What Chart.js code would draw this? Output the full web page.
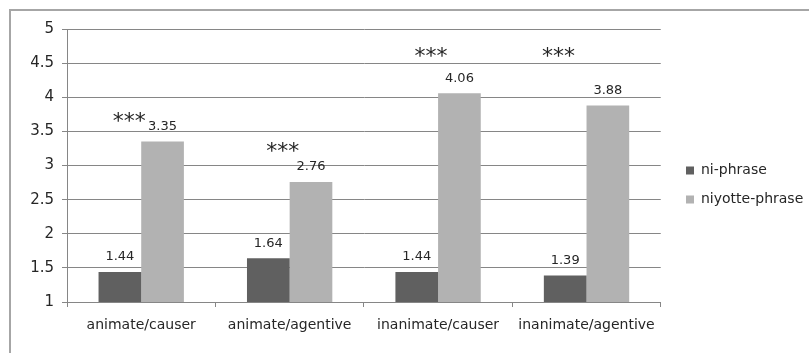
<!DOCTYPE html>
<html>
<head>
<meta charset="utf-8">
<script src="https://cdn.jsdelivr.net/npm/chart.js@4/dist/chart.umd.min.js"></script>
<style>
  html, body { margin: 0; padding: 0; background: #fff; }
  #wrap { position: relative; width: 809px; height: 353px; overflow: hidden; }
  #frame { position: absolute; left: 9px; top: 9px; width: 900px; height: 400px;
           border-top: 2px solid #a6a6a6; border-left: 2px solid #a6a6a6; }
  canvas { position: absolute; left: 0; top: 0; }
</style>
</head>
<body>
<div id="wrap">
  <div id="frame"></div>
  <canvas id="c" width="809" height="353"></canvas>
</div>
<script>
const categories = ["animate/causer", "animate/agentive", "inanimate/causer", "inanimate/agentive"];
const seriesNames = ["ni-phrase", "niyotte-phrase"];
const niPhrase = [1.44, 1.64, 1.44, 1.39];
const niyottePhrase = [3.35, 2.76, 4.06, 3.88];
const significance = ["***", "***", "***", "***"];
const yTicks = [1, 1.5, 2, 2.5, 3, 3.5, 4, 4.5, 5];

// star annotation placement (px offset from category centre, y in data units)
const starPlacement = [
  { dx: -12, y: 3.70 },
  { dx: -7,  y: 3.26 },
  { dx: -7,  y: 4.66 },
  { dx: -28, y: 4.66 }
];

const FONT = "'DejaVu Sans', sans-serif";

const valueLabels = {
  id: 'valueLabels',
  afterLayout(chart) {
    const lg = chart.legend;
    if (lg) {
      const shift = 687 - 16 - lg.left;
      lg.left += shift; lg.right += shift; lg.top -= 6; lg.bottom -= 6;
    }
  },
  afterDatasetsDraw(chart) {
    const ctx = chart.ctx;
    ctx.save();
    ctx.font = "13px " + FONT;
    ctx.fillStyle = "#262626";
    ctx.textAlign = "center";
    ctx.textBaseline = "middle";
    chart.data.datasets.forEach((ds, di) => {
      const meta = chart.getDatasetMeta(di);
      meta.data.forEach((bar, i) => {
        ctx.fillText(ds.data[i].toFixed(2), bar.x, bar.y - 15);
      });
    });
    ctx.font = "22px " + FONT;
    const xs = chart.scales.x, ys = chart.scales.y;
    significance.forEach((s, i) => {
      const p = starPlacement[i];
      ctx.fillText(s, xs.getPixelForValue(i) + p.dx, ys.getPixelForValue(p.y) + 5);
    });
    ctx.restore();
  }
};

new Chart(document.getElementById('c'), {
  type: 'bar',
  data: {
    labels: categories,
    datasets: [
      { label: seriesNames[0], data: niPhrase, backgroundColor: '#606060' },
      { label: seriesNames[1], data: niyottePhrase, backgroundColor: '#b2b2b2' }
    ]
  },
  options: {
    responsive: false,
    animation: false,
    devicePixelRatio: 1,
    layout: { padding: { left: 10, top: 29, right: 6, bottom: 0 } },
    datasets: { bar: { categoryPercentage: 0.575, barPercentage: 1.0 } },
    plugins: {
      tooltip: { enabled: false },
      legend: {
        position: 'right',
        labels: {
          font: { family: FONT, size: 14 },
          color: '#262626',
          boxWidth: 8, boxHeight: 8,
          padding: 15
        }
      }
    },
    scales: {
      x: {
        grid: { drawOnChartArea: false, drawTicks: true, tickLength: 5, color: '#868686', offset: true },
        border: { color: '#868686' },
        ticks: { font: { family: FONT, size: 14 }, color: '#262626', padding: 10 },
        afterFit(scale) { scale.height = 51; }
      },
      y: {
        min: 1, max: 5,
        afterBuildTicks(scale) { scale.ticks = yTicks.map(v => ({ value: v })); },
        grid: { color: '#868686', drawTicks: true, tickLength: 5 },
        border: { color: '#868686' },
        ticks: { font: { family: FONT, size: 15 }, color: '#262626', padding: 8,
                 callback: v => String(v) },
        afterFit(scale) { scale.width = 57; }
      }
    }
  },
  plugins: [valueLabels]
});
</script>
</body>
</html>
